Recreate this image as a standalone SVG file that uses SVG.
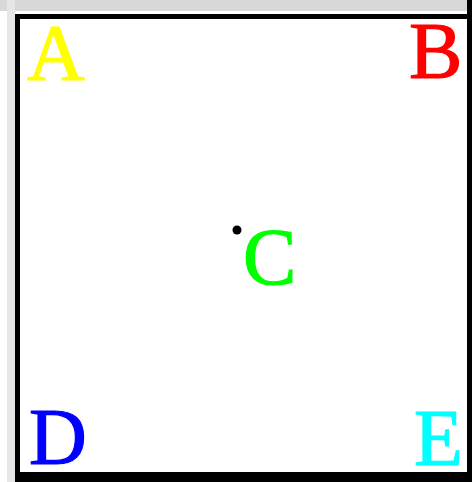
<svg xmlns="http://www.w3.org/2000/svg" width="472" height="482" viewBox="0 0 472 482">
<style>
.lbl{font-family:"Liberation Serif","Times New Roman",serif;font-size:80px;stroke-width:1.2px}
</style>
<rect x="0" y="0" width="472" height="482" fill="#ffffff"/>
<rect x="0" y="0" width="472" height="11" fill="#d8d8d8"/>
<rect x="7" y="0" width="8" height="482" fill="#e6e6e6"/>
<g id="frame">
<rect x="15" y="14" width="5" height="468" fill="#000"/>
<rect x="15" y="14" width="457" height="5" fill="#000"/>
<rect x="467" y="0" width="5" height="482" fill="#000"/>
<rect x="15" y="472" width="457" height="10" fill="#000"/>
</g>
<g id="connectors"></g>
<g id="A"><text class="lbl" x="27" y="80" fill="#ffff00" stroke="#ffff00">A</text></g>
<g id="B"><text class="lbl" x="409" y="78" fill="#ff0000" stroke="#ff0000">B</text></g>
<g id="C"><circle cx="237" cy="230" r="4.5" fill="#000"/><text class="lbl" x="243" y="284" fill="#00ff00" stroke="#00ff00">C</text></g>
<g id="D"><text class="lbl" x="29" y="464" fill="#0000ff" stroke="#0000ff">D</text></g>
<g id="E"><text class="lbl" x="414" y="465" fill="#00ffff" stroke="#00ffff">E</text></g>
</svg>
